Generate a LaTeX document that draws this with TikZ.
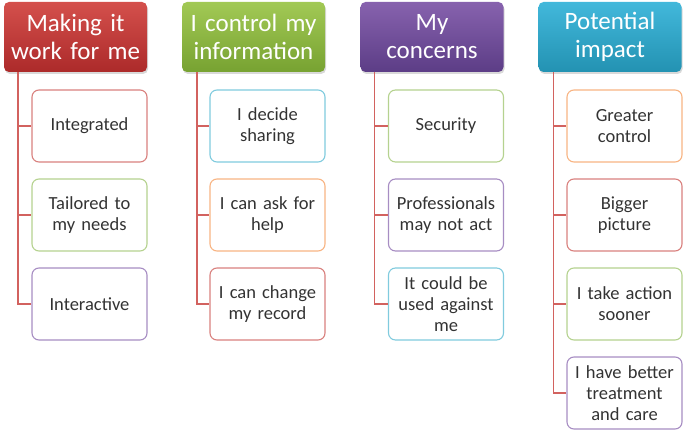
\documentclass[tikz,border=0pt]{standalone}
\usepackage{fontspec}
\setmainfont{Carlito}
\usetikzlibrary{shadows}
\begin{document}
\begin{tikzpicture}[x=1pt, y=-1pt]
  % Colors
  \definecolor{blank}{HTML}{FFFFFF}
  \definecolor{ink}{HTML}{333333}
  \definecolor{redtop}{HTML}{D4504C}
  \definecolor{redbot}{HTML}{AC2A2A}
  \definecolor{greentop}{HTML}{A2C955}
  \definecolor{greenbot}{HTML}{77A231}
  \definecolor{purpletop}{HTML}{8762AE}
  \definecolor{purplebot}{HTML}{5C3D86}
  \definecolor{aquatop}{HTML}{42B8DB}
  \definecolor{aquabot}{HTML}{2392B2}
  \definecolor{redline}{HTML}{D9817E}
  \definecolor{greenline}{HTML}{B5D28F}
  \definecolor{purpleline}{HTML}{A78DC3}
  \definecolor{aqualine}{HTML}{80CBDE}
  \definecolor{orangeline}{HTML}{F8B483}
  \definecolor{link}{HTML}{D2625F}

  % Configurations
  \tikzset{
    head/.style 2 args={rounded corners=5pt, top color=#1, bottom color=#2,
      draw=none, text=blank, minimum width=143, minimum height=70,
      text width=136, align=center, font=\fontsize{25}{28}\selectfont,
      drop shadow={opacity=.3, shadow xshift=1pt, shadow yshift=-2pt}},
    item/.style={draw=#1, line width=1.1pt, fill=blank, rounded corners=7pt,
      minimum width=115, minimum height=72, text width=108, align=center,
      text=ink, font=\fontsize{18.5}{21}\selectfont},
    wire/.style={draw=link, line width=1.4pt}
  }

  % Bounding box
  \useasboundingbox (0,0) rectangle (685,430);

  % Headers
  \node [head={redtop}{redbot}] (h1) at (75.5,37) {Making it\\work for me};
  \node [head={greentop}{greenbot}] (h2) at (253.5,37) {I control my\\information};
  \node [head={purpletop}{purplebot}] (h3) at (432,37) {My\\concerns};
  \node [head={aquatop}{aquabot}] (h4) at (610,37) {Potential\\impact};

  % Column 1
  \node [item=redline] (c11) at (89.5,126) {Integrated};
  \node [item=greenline] (c12) at (89.5,215) {Tailored to\\my needs};
  \node [item=purpleline] (c13) at (89.5,304) {Interactive};
  % Column 2
  \node [item=aqualine] (c21) at (267.5,126) {I decide\\sharing};
  \node [item=orangeline] (c22) at (267.5,215) {I can ask for\\help};
  \node [item=redline] (c23) at (267.5,304) {I can change\\my record};
  % Column 3
  \node [item=greenline] (c31) at (446,126) {Security};
  \node [item=purpleline] (c32) at (446,215) {Professionals\\may not act};
  \node [item=aqualine] (c33) at (446,304) {It could be\\used against\\me};
  % Column 4
  \node [item=orangeline] (c41) at (624.5,126) {Greater\\control};
  \node [item=redline] (c42) at (624.5,215) {Bigger\\picture};
  \node [item=greenline] (c43) at (624.5,304) {I take action\\sooner};
  \node [item=purpleline] (c44) at (624.5,393) {I have better\\treatment\\and care};

  % Connectors
  \coordinate (t1) at ([xshift=14pt]h1.south west);
  \coordinate (t2) at ([xshift=15pt]h2.south west);
  \coordinate (t3) at ([xshift=14pt]h3.south west);
  \coordinate (t4) at ([xshift=15pt]h4.south west);
  \draw [wire] (t1) |- (c11.west) (t1) |- (c12.west) (t1) |- (c13.west);
  \draw [wire] (t2) |- (c21.west) (t2) |- (c22.west) (t2) |- (c23.west);
  \draw [wire] (t3) |- (c31.west) (t3) |- (c32.west) (t3) |- (c33.west);
  \draw [wire] (t4) |- (c41.west) (t4) |- (c42.west) (t4) |- (c43.west)
    (t4) |- (c44.west);
\end{tikzpicture}
\end{document}
